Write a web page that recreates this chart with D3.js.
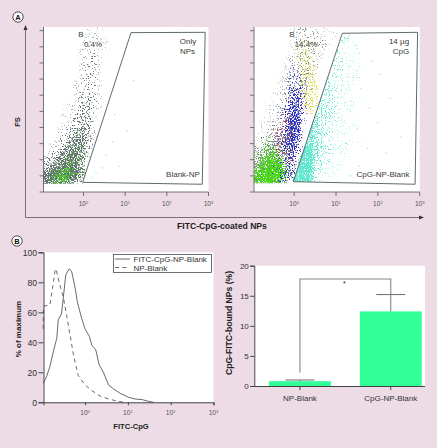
<!DOCTYPE html>
<html><head><meta charset="utf-8">
<script src="https://cdn.jsdelivr.net/npm/d3@7/dist/d3.min.js"></script>
<style>html,body{margin:0;padding:0;background:#eddce5}svg{display:block}text{font-family:"Liberation Sans",Arial,sans-serif}</style>
</head><body><script>
// ---------- Panel A data: density tables (digit = density 0-9) ----------
const gridCols = 28, gridRows = 27;
const leftGrey = ["00000001110000","00000001110000","00000011111000","00000011111000","00000011210000","00000011210000","00000012210000","00000012210000","00000012210000","00000112210000","00000112210000","00000122210000","00001123210000","00001133210000","00011244100000","00011344100000","00012344100000","00112454100000","00123564100000","01134663100000","01246762100000","12467762000000","24678751000000","46788841000000","78999862000000","89999741000000","87766320000000"];
const leftGreen = ["","","","","","","","","","","","","","","","","","00000100","00000210","00001210","00002220","00012330","00123320","01244310","02566420","05786310","04653100"];
const rightGrey = ["00000012221111","00000012222111","00000012222211","00000012222210","00000012222100","00000122222100","00000122222100","00000122322000","00001223320000","00001223320000","00001223320000","00012233200000","00012333200000","00112333200000","00112343000000","01123443000000","01123453000000","01234553000000","12345643000000","23456643000000","34566540000000","45665530000000","56665520000000","66666420000000","66666420000000","66665310000000","55554200000000"];
const rightBlue = ["","","","","","00000001000000","00000011000000","00000112000000","00000122100000","00000123100000","00000134100000","00000145200000","00000156200000","00001265200000","00001366200000","00001377100000","00001477100000","00001576000000","00012675000000","00012674000000","00012563000000","00012452000000","00012341000000","00023441000000","00034541000000","00134431000000","00123200000000"];
const rightYellow = ["","00000001110000","00000001211000","00000002321000","00000002321000","00000002331000","00000001341000","00000001341000","00000001342000","00000001343000","00000001343000","00000001343000","00000000343000","00000000342000","00000000232000","","","","","","","","00000001300000","00000002300000","00000003400000","00000004300000",""];
const rightGreen = ["","","","","","","","","","","","","","","","","","","00100000","01200000","12331000","23552000","35775100","47886200","68987300","78986200","67754100"];
const rightRed = ["","","","","","","","","","","","","","","00000100000000","00001210000000","00001210000000","00012100000000","00012210000000","00012110000000","00012210000000","00011210000000","00000120000000","","","",""];
const rightCyan = ["","0000000000000012110000000000","0000000000000121100000000000","0000000000000121110000000000","0000000000001221100000000000","0000000000001221100000000000","0000000000012221110000000000","0000000000012221110000000000","0000000000123211110000000000","0000000000123211100000000000","0000000001233211110000000000","0000000001233211000000000000","0000000001343211110000000000","0000000012443211100000000000","0000000012443211100000000000","0000000013543211000000000000","0000000145532111110000000000","0000000256532111100000000000","0000000367542111000000000000","0000000478542111110000000000","0000001589542111000000000000","0000001799532111000000000000","0000003999532110000000000000","0000005999431110000000000000","0000007998321100000000000000","0000009997211000000000000000","0000009996100000000000000000"];

const leftSpecksCyan = [[0.3,1.2],[0.55,2.3],[0.7,3.1],[0.2,0.9],[0.85,1.6],[0.45,1.5],[1.05,3.8],[1.2,6.9],[0.75,4.8]];
const rightSpecksCyan = [[1.3,9.5],[1.55,8.6],[1.3,7.8],[1.85,8.1],[1.15,6.9],[1.6,6.4],[2.05,7.3],[1.35,5.6],[1.8,5.2],[2.3,5.8],[1.05,4.6],[1.5,3.9],[2.0,4.3],[1.25,3.0],[1.75,2.7],[2.2,2.4],[1.55,1.6],[1.95,1.1],[2.55,3.4],[1.05,1.4],[1.35,1.0]];

const leftGate = [[-0.02,0.6],[1.14,9.88],[2.92,9.9],[2.85,0.48]];
const rightGate = [[-0.02,0.64],[1.15,9.84],[2.95,9.9],[2.89,0.48]];
const fsTicks = [0,1,2,3,4,5,6,7,8,9,10];
const decadeTicks = [0,1,2,3];
const leftLabels = [["B",81,36.5],["0.4%",93,46.5],["Only",188,44],["NPs",187.5,53.5],["Blank-NP",183,176.5]];
const rightLabels = [["B",292,36.5],["14.4%",306,46.5],["14 µg",399,44],["CpG",401,53.5],["CpG-NP-Blank",383,176.5]];

// ---------- Panel B data ----------
const solidCurve = [[-0.977,12.7],[-0.9,17],[-0.82,23.8],[-0.74,33.8],[-0.66,42.7],[-0.625,55],[-0.55,59],[-0.51,69],[-0.45,85],[-0.37,89],[-0.31,87],[-0.23,76],[-0.18,67],[-0.08,56],[0,49],[0.1,44],[0.16,38],[0.25,35],[0.33,25],[0.43,20],[0.55,11.5],[0.66,9],[0.82,6],[1.02,3.3],[1.17,2.2],[1.33,1.8],[1.48,0.7],[1.6,0]];
const dashedCurve = [[-0.977,49],[-0.97,64],[-0.82,65],[-0.76,76],[-0.7,88],[-0.68,89],[-0.59,78.5],[-0.51,70.5],[-0.43,58],[-0.35,45],[-0.27,31.5],[-0.16,18],[0,11.5],[0.16,7.8],[0.35,4.2],[0.55,2.2],[0.74,0.9],[0.9,0]];
const histYTicks = [0,20,40,60,80,100];
const barCategories = ["NP-Blank","CpG-NP-Blank"];
const barValues = [0.8,12.4];
const barErrors = [1.0,15.2];
const barYTicks = [0,5,10,15,20];
const bracket = {top:17.8, leftEnd:2.2, rightEnd:15.2};

const W=437,H=448;
const svg=d3.select("body").append("svg").attr("width",W).attr("height",H);
svg.append("rect").attr("width",W).attr("height",H).attr("fill","#eddce5");
const defs=svg.append("defs");
const ink="#3a3a3a", tickC="#555";

// stipple rendering of a density layer: the table's density controls how many grains show
let seed=3;
function stipple(color){
  const id="st"+(seed++);
  const f=defs.append("filter").attr("id",id).attr("x","-5%").attr("y","-5%").attr("width","110%").attr("height","110%")
    .attr("color-interpolation-filters","sRGB");
  f.append("feGaussianBlur").attr("in","SourceAlpha").attr("stdDeviation",1.5).attr("result","dens");
  f.append("feTurbulence").attr("type","fractalNoise").attr("baseFrequency",0.75).attr("numOctaves",2).attr("seed",seed*7).attr("result","n");
  f.append("feColorMatrix").attr("in","n").attr("type","matrix").attr("values","0 0 0 0 0 0 0 0 0 0 0 0 0 0 0 2.6 0 0 0 -0.8").attr("result","grain");
  f.append("feComposite").attr("in","dens").attr("in2","grain").attr("operator","arithmetic").attr("k1",0).attr("k2",1).attr("k3",1).attr("k4",-1).attr("result","sum");
  const ct=f.append("feComponentTransfer").attr("in","sum").attr("result","mask");
  ct.append("feFuncA").attr("type","linear").attr("slope",5).attr("intercept",0);
  f.append("feGaussianBlur").attr("in","mask").attr("stdDeviation",0.3).attr("result","soft");
  f.append("feFlood").attr("flood-color",color).attr("result","c");
  f.append("feComposite").attr("in","c").attr("in2","soft").attr("operator","in");
  return id;
}

function sup(g,x,y,e,fs){
  const t=g.append("text").attr("x",x).attr("y",y).attr("text-anchor","middle").attr("fill","#555").attr("font-size",fs);
  t.append("tspan").text("10");
  t.append("tspan").attr("dy",-2).attr("font-size",fs*0.62).text(e);
}

function scatter(id,x0,x1,gate,heat,specks,labels){
  const y0=27,y1=192;
  const x=d3.scaleLinear().domain([-0.96,3]).range([x0,x1]);
  const y=d3.scaleLinear().domain([0,10]).range([192,30.7]);
  const g=svg.append("g");
  g.append("rect").attr("x",x0).attr("y",y0).attr("width",x1-x0).attr("height",y1-y0).attr("fill","#fff");
  const line=d3.line().x(d=>x(d[0])).y(d=>y(d[1]));
  const bottom=y(gate[0][1])+1.5;
  const outside=[[x0,y0],[x(gate[1][0])+(y(gate[1][1])-y0)*(x(gate[1][0])-x(gate[0][0]))/(y(gate[0][1])-y(gate[1][1])),y0],[x(gate[1][0]),y(gate[1][1])],[x(gate[0][0]),y(gate[0][1])],[x(gate[0][0]),bottom],[x0,bottom]];
  defs.append("clipPath").attr("id",id+"o").append("path").attr("d","M"+outside.join("L")+"Z");
  defs.append("clipPath").attr("id",id+"i").append("path").attr("d",line(gate)+"Z");
  const cx=d3.scaleBand().domain(d3.range(gridCols)).range([x0,x1]);
  const cy=d3.scaleBand().domain(d3.range(gridRows)).range([y0,y0+cx.bandwidth()*gridRows]);
  const cellData=rows=>rows.flatMap((s,r)=>Array.from(s,(c,i)=>({r,i,v:+c}))).filter(d=>d.v>0);
  const layer=(rows,color,clip,max)=>{
    const o=d3.scaleLinear().domain([0,9]).range([0,max]);
    g.append("g").attr("clip-path",`url(#${id}${clip})`).append("g").attr("filter",`url(#${stipple(color)})`)
      .selectAll("rect").data(cellData(rows)).join("rect")
      .attr("x",d=>cx(d.i)-(d.i==0?8:0)).attr("y",d=>cy(d.r))
      .attr("width",d=>cx.bandwidth()+(d.i==0?8:0)).attr("height",d=>cy.bandwidth()+(d.r==gridRows-1?8:0))
      .attr("fill","#000").attr("opacity",d=>o(d.v));
  };
  heat.forEach(h=>layer(h.rows,h.color,h.clip,h.max));
  specks.forEach(s=>{
    g.append("g").attr("clip-path",`url(#${id}${s.clip})`).selectAll("rect").data(s.pts).join("rect")
      .attr("x",d=>x(d[0])-0.6).attr("y",d=>y(d[1])-0.6).attr("width",1.2).attr("height",1.2)
      .attr("fill",s.color).attr("opacity",s.op);
  });
  g.append("path").attr("d",line(gate)+"Z").attr("fill","none").attr("stroke","#4d5a5a").attr("stroke-width",0.9);
  const ax=g.append("g");
  ax.append("line").attr("x1",x0).attr("x2",x0).attr("y1",y0).attr("y2",y1).attr("stroke",tickC).attr("stroke-width",0.8);
  ax.append("line").attr("x1",x0).attr("x2",x1).attr("y1",y1).attr("y2",y1).attr("stroke",tickC).attr("stroke-width",0.8);
  ax.selectAll(".ty").data(fsTicks).join("line").attr("x1",x0-4).attr("x2",x0).attr("y1",d=>y(d)).attr("y2",d=>y(d)).attr("stroke",tickC).attr("stroke-width",0.8);
  ax.selectAll(".tx").data(decadeTicks).join("line").attr("x1",d=>x(d)).attr("x2",d=>x(d)).attr("y1",y1).attr("y2",y1+4).attr("stroke",tickC).attr("stroke-width",0.8);
  decadeTicks.forEach(d=>sup(g,x(d),206,d,6.6));
  labels.forEach(l=>g.append("text").attr("x",l[1]).attr("y",l[2]).attr("text-anchor","middle").attr("font-size",8).attr("fill",ink).text(l[0]));
}

scatter("L",43.5,208.5,leftGate,[
  {rows:leftGrey,color:"#667176",clip:"o",max:1},
  {rows:leftGreen,color:"#4fd02c",clip:"o",max:0.85}
],[
  {pts:leftSpecksCyan,color:"#8fe8dc",clip:"i",op:0.9}
],leftLabels);

scatter("R",254,419.7,rightGate,[
  {rows:rightGrey,color:"#7c8884",clip:"o",max:0.9},
  {rows:rightYellow,color:"#dede50",clip:"o",max:0.95},
  {rows:rightBlue,color:"#2c30c4",clip:"o",max:0.95},
  {rows:rightRed,color:"#c8304a",clip:"o",max:0.9},
  {rows:rightGreen,color:"#46dc14",clip:"o",max:1},
  {rows:rightCyan,color:"#62e8d0",clip:"i",max:1}
],[
  {pts:rightSpecksCyan,color:"#8fe8dc",clip:"i",op:1}
],rightLabels);

svg.append("path").attr("d","M25.5,30V217.5H420").attr("fill","none").attr("stroke","#555").attr("stroke-width",0.8);
svg.append("path").attr("d","M25.5,25l-2,5h4Z M424,217.5l-5,-2v4Z").attr("fill","#333");
svg.append("text").attr("transform","translate(20,122) rotate(-90)").attr("text-anchor","middle").attr("font-size",7.6).attr("font-weight","bold").attr("fill","#222").text("FS");
svg.append("text").attr("x",222).attr("y",229).attr("text-anchor","middle").attr("font-size",8.6).attr("font-weight","bold").attr("fill","#222").text("FITC-CpG-coated NPs");
[["A",18,17],["B",17,241]].forEach(d=>{
  svg.append("circle").attr("cx",d[1]).attr("cy",d[2]).attr("r",5.2).attr("fill","#fff").attr("stroke","#222").attr("stroke-width",0.8);
  svg.append("text").attr("x",d[1]).attr("y",d[2]+2.7).attr("text-anchor","middle").attr("font-size",7.5).attr("font-weight","bold").attr("fill","#111").text(d[0]);
});

// ---------- Histogram ----------
{
  const x0=43.5,x1=213.5,y0=252.3,y1=402.3;
  const x=d3.scaleLinear().domain([-0.97,3]).range([x0,x1]);
  const y=d3.scaleLinear().domain([0,100]).range([y1,y0]);
  const g=svg.append("g");
  g.append("rect").attr("x",x0).attr("y",y0).attr("width",x1-x0).attr("height",y1-y0).attr("fill","#fff");
  const line=d3.line().x(d=>x(d[0])).y(d=>y(d[1])).curve(d3.curveLinear);
  g.append("path").attr("d",line(solidCurve)).attr("fill","none").attr("stroke","#444").attr("stroke-width",0.8);
  g.append("path").attr("d",line(dashedCurve)).attr("fill","none").attr("stroke","#444").attr("stroke-width",0.8).attr("stroke-dasharray","4,3.5");
  const ya=g.append("g").attr("transform",`translate(${x0},0)`).call(d3.axisLeft(y).tickValues(histYTicks).tickSize(5).tickPadding(1.5));
  ya.selectAll("text").attr("font-size",8.6).attr("fill","#333").style("font-family",'"Liberation Sans"');
  ya.selectAll("line,path").attr("stroke","#444");
  const xa=g.append("g").attr("transform",`translate(0,${y1})`).call(d3.axisBottom(x).tickValues(decadeTicks).tickSizeOuter(0).tickSize(3).tickFormat(""));
  xa.selectAll("line,path").attr("stroke","#444");
  decadeTicks.forEach(d=>sup(g,x(d),415,d,6.6));
  g.append("text").attr("transform","translate(21,329) rotate(-90)").attr("text-anchor","middle").attr("font-size",8).attr("font-weight","bold").attr("fill","#222").text("% of maximum");
  g.append("text").attr("x",131).attr("y",429).attr("text-anchor","middle").attr("font-size",7.6).attr("font-weight","bold").attr("fill","#222").text("FITC-CpG");
  g.append("rect").attr("x",113.5).attr("y",254.5).attr("width",98).attr("height",18).attr("fill","#fff").attr("stroke","#333").attr("stroke-width",0.7);
  g.append("line").attr("x1",115).attr("x2",130).attr("y1",259).attr("y2",259).attr("stroke","#444").attr("stroke-width",0.8);
  g.append("line").attr("x1",115).attr("x2",130).attr("y1",267.5).attr("y2",267.5).attr("stroke","#444").attr("stroke-width",0.8).attr("stroke-dasharray","4,3.5");
  g.append("text").attr("x",133.5).attr("y",261.8).attr("font-size",8).attr("fill","#333").text("FITC-CpG-NP-Blank");
  g.append("text").attr("x",133.5).attr("y",270.5).attr("font-size",8).attr("fill","#333").text("NP-Blank");
}

// ---------- Bar chart ----------
{
  const x0=254.3,x1=425,y0=265.7,y1=386;
  const y=d3.scaleLinear().domain([0,20]).range([y1,y0]);
  const x=d3.scaleBand().domain(barCategories).range([269,421.7]).paddingInner(0.319).paddingOuter(0);
  const cx=c=>x(c)+x.bandwidth()/2;
  const g=svg.append("g");
  g.append("rect").attr("x",x0).attr("y",y0).attr("width",x1-x0).attr("height",y1-y0).attr("fill","#fff");
  g.selectAll(".bar").data(barCategories).join("rect")
    .attr("x",c=>x(c)).attr("width",x.bandwidth())
    .attr("y",(c,i)=>y(barValues[i])).attr("height",(c,i)=>y1-y(barValues[i])).attr("fill","#33ff99");
  barCategories.forEach((c,i)=>{
    g.append("line").attr("x1",cx(c)).attr("x2",cx(c)).attr("y1",y(barValues[i])).attr("y2",y(barErrors[i])).attr("stroke","#555").attr("stroke-width",0.8);
    g.append("line").attr("x1",cx(c)-14.5).attr("x2",cx(c)+14.5).attr("y1",y(barErrors[i])).attr("y2",y(barErrors[i])).attr("stroke","#444").attr("stroke-width",0.8);
  });
  const [a,b]=barCategories.map(cx);
  g.append("path").attr("d",`M${a},${y(bracket.leftEnd)}V${y(bracket.top)}H${b}V${y(bracket.rightEnd)}`).attr("fill","none").attr("stroke","#888").attr("stroke-width",1.1);
  g.append("text").attr("x",(a+b)/2-1).attr("y",y(bracket.top)+7.5).attr("text-anchor","middle").attr("font-size",7).attr("fill","#222").text("*");
  const ya=g.append("g").attr("transform",`translate(${x0},0)`).call(d3.axisLeft(y).tickValues(barYTicks).tickSize(4).tickPadding(1.5));
  ya.selectAll("text").attr("font-size",8).attr("fill","#333").style("font-family",'"Liberation Sans"');
  ya.selectAll("line,path").attr("stroke","#444");
  const xa=g.append("g").attr("transform",`translate(0,${y1})`).call(d3.axisBottom(x).tickSize(4).tickSizeOuter(0).tickPadding(5));
  xa.select(".domain").attr("d",`M${x0},0.5H${x1}`);
  xa.selectAll("text").attr("font-size",8).attr("fill","#333").style("font-family",'"Liberation Sans"');
  xa.selectAll("line,path").attr("stroke","#444");
  g.append("text").attr("transform","translate(232,323) rotate(-90)").attr("text-anchor","middle").attr("font-size",8.6).attr("font-weight","bold").attr("fill","#222").text("CpG-FITC-bound NPs (%)");
}
</script></body></html>
